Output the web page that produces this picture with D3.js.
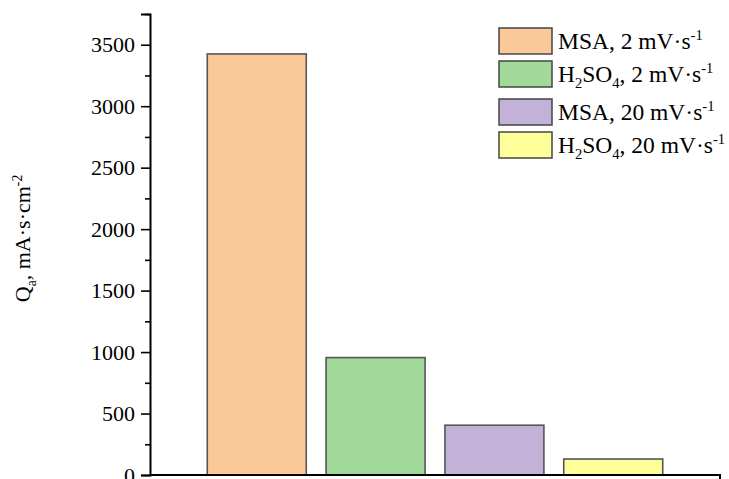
<!DOCTYPE html>
<html>
<head>
<meta charset="utf-8">
<script src="https://cdn.jsdelivr.net/npm/d3@7"></script>
<style>
  html, body { margin: 0; padding: 0; background: #fff; }
  svg { display: block; }
  svg text { font-family: "Liberation Serif", "Times New Roman", Times, "DejaVu Serif", serif; }
</style>
</head>
<body>
<svg id="chart" width="729" height="479"></svg>
<script>
// Anodic charge for each electrolyte / scan-rate combination
const categories = [
  "MSA, 2 mV·s^{-1}",
  "H_{2}SO_{4}, 2 mV·s^{-1}",
  "MSA, 20 mV·s^{-1}",
  "H_{2}SO_{4}, 20 mV·s^{-1}"
];
const values = [3425, 955, 405, 130];
const barColors = ["#FBC999", "#A1D99B", "#C2B2D7", "#FFFF99"];
const yMajorTicks = [0, 500, 1000, 1500, 2000, 2500, 3000, 3500];
const yMinorTicks = [250, 750, 1250, 1750, 2250, 2750, 3250, 3750];
const yTitle = "Q_{a}, mA·s·cm^{-2}";

const serif = "'Liberation Serif', 'Times New Roman', Times, 'DejaVu Serif', serif";
const svg = d3.select("#chart");
const margin = { left: 150, right: 9, top: 14, bottom: 4 };
const W = 729, H = 479;

const x = d3.scaleBand()
  .domain(categories)
  .range([margin.left, W - margin.right])
  .paddingInner(0.167)
  .paddingOuter(0.482);

const y = d3.scaleLinear()
  .domain([0, 3750])
  .range([475, margin.top]);

// Writes text with _{...} subscripts and ^{...} superscripts as tspans
function richText(sel, str, size) {
  const re = /([_^])\{([^}]*)\}|([^_^]+)/g;
  let m;
  let shift = 0;
  while ((m = re.exec(str)) !== null) {
    if (m[3] !== undefined) {
      sel.append("tspan").attr("dy", -shift).text(m[3]);
      shift = 0;
    } else {
      const d = m[1] === "_" ? size * 0.28 : -size * 0.38;
      sel.append("tspan")
        .attr("dy", d - shift)
        .attr("font-size", size * 0.62)
        .text(m[2]);
      shift = d;
    }
  }
}

// Bars
svg.append("g")
  .selectAll("rect")
  .data(values)
  .join("rect")
  .attr("x", (d, i) => x(categories[i]))
  .attr("y", d => y(d))
  .attr("width", x.bandwidth())
  .attr("height", d => y(0) - y(d))
  .attr("fill", (d, i) => barColors[i])
  .attr("stroke", "#555")
  .attr("stroke-width", 1.6);

// Y axis with major and minor ticks
const yAxis = svg.append("g")
  .attr("transform", `translate(${margin.left},0)`)
  .call(d3.axisLeft(y).tickValues(yMajorTicks).tickSize(9).tickPadding(6).tickFormat(d3.format("d")));
yAxis.attr("font-family", serif).attr("font-size", 22);
yAxis.select(".domain").attr("stroke-width", 2);
yAxis.selectAll(".tick line").attr("stroke-width", 1.6);
yAxis.selectAll(".tick text").attr("fill", "#000");

const yMinor = svg.append("g")
  .attr("transform", `translate(${margin.left},0)`)
  .call(d3.axisLeft(y).tickValues(yMinorTicks).tickSize(5).tickFormat(""));
yMinor.select(".domain").remove();
yMinor.selectAll(".tick line").attr("stroke-width", 1.6);

// X axis baseline
const xAxis = svg.append("g")
  .attr("transform", `translate(0,${y(0)})`)
  .call(d3.axisBottom(x).tickSize(0).tickFormat(""));
xAxis.select(".domain").attr("stroke-width", 2).attr("d", `M${margin.left},0H${W - margin.right}V6`);

// Y axis title
const title = svg.append("text")
  .attr("transform", `translate(30,${(y(0) + y(3750)) / 2 - 6}) rotate(-90)`)
  .attr("text-anchor", "middle")
  .attr("font-family", serif)
  .attr("font-size", 22)
  .attr("fill", "#000");
richText(title, yTitle, 22);

// Legend
const legendRows = [28, 61, 99, 132];
const legend = svg.append("g");
categories.forEach((c, i) => {
  const g = legend.append("g").attr("transform", `translate(499,${legendRows[i]})`);
  g.append("rect")
    .attr("width", 53)
    .attr("height", 26)
    .attr("fill", barColors[i])
    .attr("stroke", "#444")
    .attr("stroke-width", 1.5);
  const t = g.append("text")
    .attr("x", 59)
    .attr("y", 20.5)
    .attr("font-family", serif)
    .attr("font-size", 23.5)
    .attr("fill", "#000");
  richText(t, c, 23.5);
});
</script>
</body>
</html>
